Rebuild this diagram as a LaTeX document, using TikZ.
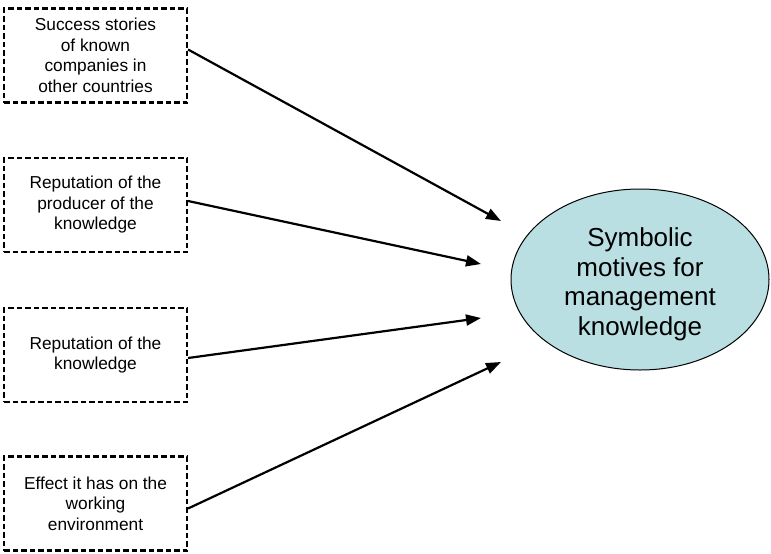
\documentclass[tikz,border=0pt]{standalone}
\usepackage{fontspec}
\setmainfont{Liberation Sans}
\usetikzlibrary{arrows.meta,shapes.geometric}
\definecolor{ovalfill}{RGB}{186,223,227}
\begin{document}
\begin{tikzpicture}[x=1pt,y=-1pt,
  factorbox/.style={draw=black, line width=2.1pt, dash pattern=on 5.5pt off 3pt,
    minimum width=183pt, minimum height=94pt, inner sep=2pt, align=center,
    font=\fontsize{17.3}{20.5}\selectfont},
  motive/.style={ellipse, draw=black, line width=1pt, fill=ovalfill,
    minimum width=258pt, minimum height=181pt, inner sep=0pt},
  motivetext/.style={align=center, inner sep=0pt,
    font=\fontsize{26}{29.5}\selectfont},
  link/.style={line width=2.2pt, -{Triangle[length=15pt,width=11pt]}}]
\useasboundingbox (0,0) rectangle (771,554);

% influencing factors
\node[factorbox] (b1) at (95.5,55.5) {Success stories\\of known\\companies in\\other countries};
\node[factorbox] (b2) at (95.5,205) {Reputation of the\\producer of the\\knowledge};
\node[factorbox] (b3) at (95.5,355) {Reputation of the\\knowledge};
\node[factorbox] (b4) at (95.5,503.5) {Effect it has on the\\working\\environment};

% central concept
\node[motive] (m) at (640,279.5) {};
\node[motivetext] (mt) at ([yshift=-5pt]m.center) {Symbolic\\motives for\\management\\knowledge};

% arrow tips stop short of the oval
\coordinate (t1) at (501,221);
\coordinate (t2) at (481,264);
\coordinate (t3) at (481,318);
\coordinate (t4) at (501,362);

\draw[link] ([yshift=6pt]b1.east) -- (t1);
\draw[link] ([yshift=4pt]b2.east) -- (t2);
\draw[link] ([yshift=-3pt]b3.east) -- (t3);
\draw[link] ([yshift=-5pt]b4.east) -- (t4);
\end{tikzpicture}
\end{document}
